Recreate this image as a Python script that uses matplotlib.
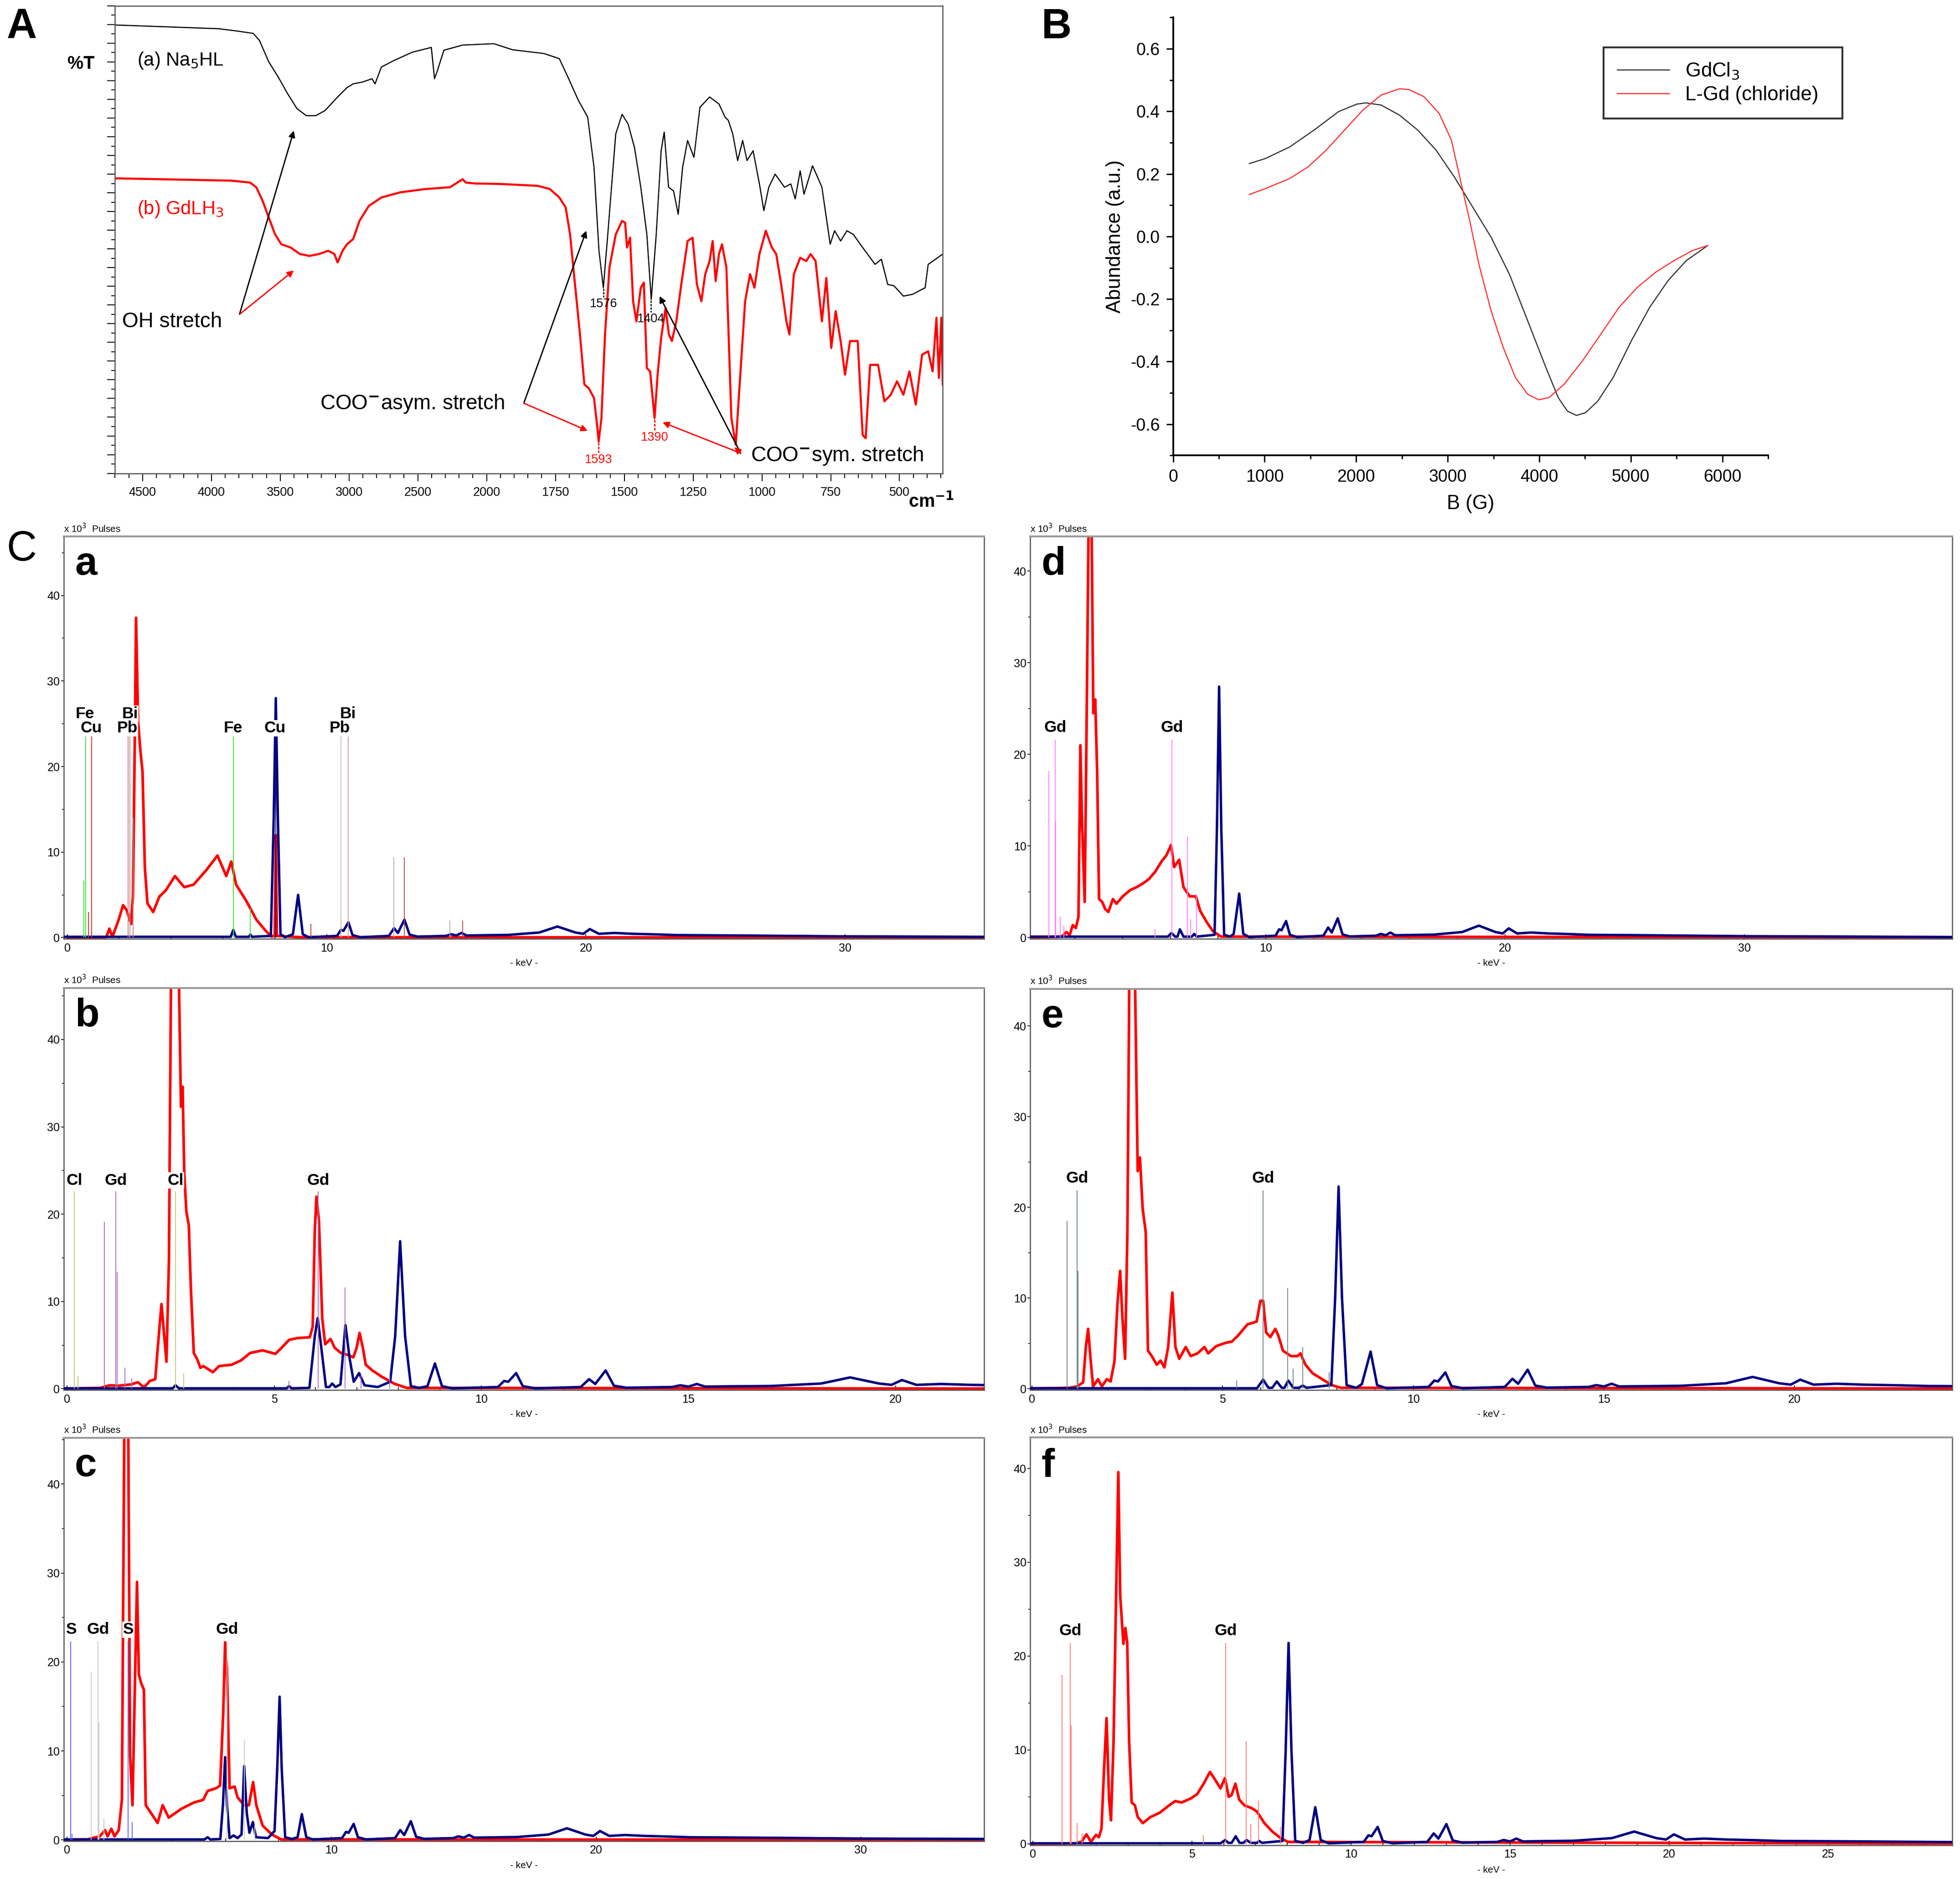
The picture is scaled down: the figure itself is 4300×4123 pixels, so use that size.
import numpy as np
import matplotlib
matplotlib.use('Agg')
from matplotlib import pyplot as plt
from matplotlib.ticker import FixedLocator, MultipleLocator, FormatStrFormatter

plt.rcParams['font.family'] = ['Liberation Sans', 'DejaVu Sans']
plt.rcParams['axes.unicode_minus'] = False
NARROW = ['Liberation Sans Narrow', 'Liberation Sans', 'DejaVu Sans']

# ---------------- A: IR spectra (wavenumber, %T) ----------------
ir_a_w = [4700, 3946, 3810, 3696, 3651, 3583, 3515, 3446, 3378, 3310, 3242, 3174, 3083, 3015, 2970,
          2902, 2833, 2811, 2765, 2674, 2538, 2402, 2379, 2357, 2311, 2175, 1974, 1906, 1792, 1736,
          1702, 1667, 1633, 1610, 1592, 1576, 1560, 1531, 1508, 1486, 1463, 1440, 1418, 1402, 1384,
          1366, 1355, 1339, 1321, 1304, 1288, 1270, 1247, 1225, 1190, 1156, 1134, 1122, 1106, 1088,
          1070, 1054, 1032, 1009, 993, 975, 952, 918, 895, 879, 861, 847, 816, 782, 752,
          736, 714, 691, 668, 634, 589, 566, 543, 520, 486, 452, 430, 407, 396, 362, 343]
ir_a_t = [95.9, 95.1, 94.6, 94.1, 92.6, 88.0, 84.8, 81.2, 78.0, 76.5, 76.5, 77.6, 80.5, 82.5, 83.3,
          83.7, 84.4, 83.3, 86.9, 88.3, 90.1, 91.1, 84.4, 86.2, 90.5, 91.6, 91.9, 90.6, 89.8, 88.7,
          84.4, 79.8, 76.2, 65.5, 47.6, 39.7, 51.1, 72.6, 76.8, 74.7, 69.7, 61.2, 51.1, 37.2, 51.1,
          69.0, 73.0, 61.2, 60.4, 55.4, 65.5, 71.2, 67.6, 78.3, 80.5, 79.0, 76.2, 75.5, 72.6, 66.9,
          71.2, 66.9, 69.0, 61.9, 56.2, 61.2, 64.0, 61.2, 61.9, 58.7, 64.7, 59.7, 65.8, 61.2, 49.0,
          51.9, 49.7, 51.9, 51.1, 48.3, 44.7, 45.8, 40.4, 40.1, 37.9, 38.3, 39.0, 39.7, 44.7, 46.1, 46.9]

ir_b_w = [4700, 3855, 3719, 3674, 3628, 3583, 3537, 3492, 3424, 3356, 3288, 3219, 3151, 3106, 3083,
          3047, 3015, 2970, 2924, 2856, 2765, 2629, 2447, 2266, 2175, 2152, 2084, 1951, 1815, 1770,
          1736, 1713, 1697, 1679, 1661, 1645, 1629, 1610, 1599, 1593, 1583, 1570, 1554, 1531, 1508,
          1497, 1490, 1479, 1468, 1456, 1440, 1429, 1418, 1406, 1390, 1379, 1366, 1350, 1338, 1327,
          1311, 1293, 1270, 1252, 1236, 1220, 1206, 1190, 1179, 1168, 1156, 1145, 1129, 1111, 1095,
          1077, 1061, 1043, 1027, 1009, 986, 964, 948, 930, 911, 900, 884, 861, 839, 823,
          805, 782, 766, 748, 732, 714, 698, 680, 652, 634, 623, 607, 578, 555, 532,
          509, 486, 464, 441, 418, 396, 380, 366, 357, 348, 343]
ir_b_t = [63.1, 62.6, 62.2, 61.2, 58.3, 54.7, 51.1, 49.0, 48.3, 46.9, 46.5, 46.9, 47.6, 46.9, 45.1,
          47.6, 49.0, 50.1, 54.0, 57.2, 59.0, 60.1, 60.8, 61.2, 62.9, 62.2, 62.0, 61.9, 61.5, 60.8,
          59.0, 56.9, 51.1, 40.4, 29.7, 19.0, 18.2, 16.1, 10.4, 6.8, 11.8, 29.7, 44.0, 51.1, 54.0,
          53.6, 48.3, 50.4, 36.8, 32.5, 39.7, 40.8, 22.5, 21.8, 11.8, 21.1, 29.0, 35.4, 29.7, 28.3,
          32.5, 40.4, 49.7, 50.4, 40.4, 36.8, 42.6, 45.4, 49.7, 41.1, 46.9, 49.0, 44.0, 11.8, 6.1,
          22.5, 36.8, 42.6, 39.7, 46.9, 51.9, 48.3, 46.9, 40.4, 32.5, 29.7, 42.6, 46.1, 45.4, 46.9,
          45.4, 32.5, 41.8, 26.8, 34.7, 28.3, 21.1, 28.3, 28.3, 8.2, 7.5, 23.2, 23.2, 15.4, 16.8,
          19.7, 16.8, 21.8, 14.7, 25.4, 26.1, 21.8, 33.3, 20.4, 33.3, 19.0]

ir_ticks = [4500, 4000, 3500, 3000, 2500, 2000, 1750, 1500, 1250, 1000, 750, 500]

# ---------------- B: EPR ----------------
epr_gdcl3_b = [833, 1007, 1273, 1540, 1807, 2007, 2107, 2273, 2473, 2673, 2873, 3073, 3273, 3473,
               3673, 3873, 4073, 4207, 4307, 4407, 4507, 4640, 4807, 5007, 5207, 5407, 5607, 5840]
epr_gdcl3_y = [0.233, 0.249, 0.286, 0.340, 0.399, 0.423, 0.427, 0.420, 0.388, 0.340, 0.276, 0.190,
               0.094, -0.002, -0.120, -0.269, -0.419, -0.515, -0.558, -0.572, -0.563, -0.526,
               -0.451, -0.333, -0.226, -0.141, -0.077, -0.029]
epr_lgd_b = [833, 1007, 1273, 1473, 1673, 1873, 2073, 2273, 2473, 2573, 2740, 2907, 3040, 3140,
             3240, 3340, 3473, 3607, 3740, 3873, 3993, 4107, 4273, 4473, 4673, 4873, 5073, 5273,
             5473, 5673, 5840]
epr_lgd_y = [0.134, 0.153, 0.185, 0.222, 0.276, 0.340, 0.404, 0.452, 0.472, 0.470, 0.447, 0.393,
             0.308, 0.179, 0.051, -0.088, -0.237, -0.355, -0.451, -0.504, -0.522, -0.515, -0.472,
             -0.397, -0.312, -0.226, -0.162, -0.114, -0.077, -0.045, -0.029]

# ---------------- C: EDX spectra (keV, x10^3 pulses) ----------------
blue_tail = [(9.3, 0.05), (10.4, 0.2), (10.55, 0.9), (10.65, 0.8), (10.84, 1.8), (11.0, 0.3), (11.3, 0.05),
             (12.4, 0.2), (12.6, 1.1), (12.75, 0.55), (13.0, 2.1), (13.2, 0.35), (13.5, 0.12),
             (14.6, 0.2), (14.8, 0.4), (15.0, 0.25), (15.2, 0.55), (15.4, 0.25), (16.0, 0.28),
             (17.0, 0.32), (18.2, 0.6), (18.9, 1.3), (19.6, 0.6), (19.9, 0.45), (20.15, 1.0),
             (20.5, 0.45), (21.1, 0.55), (21.8, 0.45), (22.7, 0.38), (23.5, 0.3), (26.0, 0.25),
             (30.0, 0.15), (35.0, 0.1), (39.0, 0.05)]

red_a = [(0.0, 0.02), (1.5, 0.05), (1.62, 1.05), (1.74, 0.1), (1.98, 2.1), (2.15, 3.8), (2.29, 3.2),
         (2.46, 1.6), (2.53, 4.8), (2.61, 25.2), (2.65, 37.4), (2.73, 25.2), (2.82, 21.8), (2.9, 19.4),
         (2.99, 8.2), (3.09, 4.0), (3.31, 3.0), (3.55, 4.8), (3.79, 5.5), (4.15, 7.2), (4.51, 5.9),
         (4.87, 6.2), (5.36, 7.9), (5.79, 9.6), (6.13, 7.2), (6.32, 8.9), (6.51, 6.2), (6.92, 4.2),
         (7.29, 2.1), (7.65, 0.8), (7.89, 0.1), (8.0, 0.3), (8.04, 12.0), (8.08, 0.2), (9.0, 0.05),
         (35.4, 0.02)]
blue_a = [(-0.2, 0.1), (6.3, 0.1), (6.4, 0.9), (6.5, 0.1), (7.0, 0.1), (7.06, 0.35), (7.12, 0.1),
          (7.85, 0.2), (7.96, 14.0), (8.04, 28.0), (8.12, 14.0), (8.22, 0.4), (8.4, 0.05), (8.7, 0.4),
          (8.9, 5.0), (9.08, 0.4)] + blue_tail
lines_a = [(0.63, 6.7, '#40e040'), (0.705, 23.5, '#40e040'), (0.81, 3.0, '#e03030'), (0.93, 23.5, '#e03030'),
           (2.34, 23.5, '#d08080'), (2.42, 23.5, '#b0a0a0'), (2.53, 14.0, '#d08080'),
           (6.40, 23.5, '#40e040'), (7.06, 3.4, '#40e040'), (8.04, 23.5, '#101080'),
           (9.4, 1.6, '#c04040'), (10.55, 23.5, '#c8c0c0'), (10.84, 23.5, '#d0a0a0'),
           (12.6, 9.4, '#c0b0b0'), (13.0, 9.4, '#b05050'), (14.76, 2.0, '#c0b0b0'), (15.25, 2.0, '#c05050')]
labels_a = [(0.68, 25.3, 'Fe'), (0.92, 23.6, 'Cu'), (2.42, 25.3, 'Bi'), (2.31, 23.6, 'Pb'),
            (6.4, 23.6, 'Fe'), (8.0, 23.6, 'Cu'), (10.5, 23.6, 'Pb'), (10.82, 25.3, 'Bi')]

red_b = [(0.0, 0.02), (0.8, 0.1), (1.03, 0.4), (1.25, 0.35), (1.55, 0.5), (1.71, 0.75), (1.86, 0.15),
         (2.0, 0.9), (2.13, 1.1), (2.19, 4.7), (2.28, 9.7), (2.34, 6.4), (2.4, 3.1), (2.46, 14.7),
         (2.51, 47.0), (2.61, 47.0), (2.7, 47.0), (2.75, 32.3), (2.79, 34.6), (2.83, 24.6), (2.88, 20.3),
         (2.94, 18.7), (2.99, 11.4), (3.06, 4.1), (3.14, 3.4), (3.22, 2.4), (3.29, 2.6), (3.52, 1.9),
         (3.67, 2.6), (3.97, 2.75), (4.2, 3.25), (4.42, 4.1), (4.72, 4.4), (5.03, 4.0), (5.18, 4.7),
         (5.36, 5.6), (5.55, 5.8), (5.86, 5.9), (5.93, 7.1), (5.98, 18.0), (6.02, 22.0), (6.08, 19.3),
         (6.16, 8.1), (6.23, 5.1), (6.36, 5.7), (6.46, 4.7), (6.61, 4.1), (6.76, 3.9), (6.91, 3.6),
         (6.99, 4.7), (7.06, 6.4), (7.14, 4.7), (7.21, 2.75), (7.37, 2.1), (7.59, 1.4), (7.89, 0.6),
         (8.2, 0.1), (22.2, 0.02)]
blue_b = [(-0.1, 0.05), (2.55, 0.05), (2.62, 0.4), (2.7, 0.05), (5.3, 0.05), (5.36, 0.3), (5.42, 0.05),
          (5.85, 0.1), (5.98, 6.0), (6.05, 8.1), (6.13, 5.0), (6.25, 0.2), (6.33, 0.2), (6.4, 0.6),
          (6.48, 0.2), (6.6, 0.5), (6.72, 7.3), (6.82, 3.5), (6.92, 0.8), (7.05, 1.8), (7.18, 0.4),
          (7.5, 0.2), (7.8, 0.8), (7.92, 6.0), (8.04, 16.9), (8.16, 6.0), (8.3, 0.3), (8.5, 0.1),
          (8.7, 0.3), (8.88, 2.9), (9.05, 0.3)] + blue_tail
lines_b = [(0.18, 22.6, '#c8c880'), (0.26, 1.5, '#c8c880'), (0.9, 19.1, '#b070c0'), (1.18, 22.6, '#b070c0'),
           (1.21, 13.4, '#b070c0'), (1.4, 2.4, '#b070c0'), (1.56, 1.2, '#b070c0'),
           (2.62, 22.6, '#c8c880'), (2.82, 1.8, '#c8c880'), (5.36, 0.9, '#b070c0'),
           (6.06, 22.6, '#b070c0'), (6.71, 11.6, '#b070c0'), (7.1, 1.6, '#b070c0'), (7.79, 1.8, '#b070c0')]
labels_b = [(0.18, 23.0, 'Cl'), (1.18, 23.0, 'Gd'), (2.62, 23.0, 'Cl'), (6.06, 23.0, 'Gd')]

red_c = [(0.0, 0.02), (0.78, 0.05), (1.02, 0.25), (1.25, 0.4), (1.44, 1.1), (1.54, 0.4), (1.68, 1.25),
         (1.8, 0.4), (1.96, 1.1), (2.08, 4.5), (2.17, 46.0), (2.32, 46.0), (2.39, 9.4), (2.48, 3.9),
         (2.55, 14.3), (2.65, 29.0), (2.72, 18.6), (2.81, 17.6), (2.91, 16.9), (2.98, 3.9), (3.14, 3.2),
         (3.43, 1.9), (3.62, 3.9), (3.85, 2.5), (4.33, 3.5), (4.8, 4.2), (5.15, 4.5), (5.32, 5.5),
         (5.63, 5.8), (5.79, 6.1), (5.91, 14.3), (5.98, 22.2), (6.05, 19.2), (6.15, 5.8), (6.34, 6.0),
         (6.45, 4.8), (6.69, 3.9), (6.88, 3.9), (7.04, 6.5), (7.16, 3.9), (7.4, 1.6), (7.75, 0.6),
         (8.1, 0.05), (34.8, 0.02)]
blue_c = [(-0.2, 0.05), (5.2, 0.05), (5.32, 0.3), (5.42, 0.05), (5.8, 0.1), (5.9, 4.0), (5.98, 9.3),
          (6.05, 4.0), (6.15, 0.2), (6.3, 0.5), (6.45, 0.2), (6.6, 0.6), (6.7, 8.3), (6.8, 3.0),
          (6.9, 0.8), (7.03, 2.0), (7.15, 0.3), (7.6, 0.2), (7.85, 1.0), (7.95, 8.0), (8.04, 16.1),
          (8.12, 8.0), (8.25, 0.3), (8.5, 0.1), (8.72, 0.3), (8.88, 2.9), (9.05, 0.3)] + blue_tail
lines_c = [(0.15, 22.3, '#6060ff'), (0.2, 0.7, '#6060ff'), (0.92, 18.9, '#cccccc'), (1.18, 22.3, '#cccccc'),
           (1.21, 13.2, '#cccccc'), (1.4, 2.4, '#cccccc'), (2.31, 22.3, '#6060ff'), (2.46, 2.0, '#6060ff'),
           (6.06, 22.3, '#cccccc'), (6.71, 11.3, '#cccccc'), (7.1, 1.6, '#cccccc')]
labels_c = [(0.15, 22.8, 'S'), (1.18, 22.8, 'Gd'), (2.31, 22.8, 'S'), (6.06, 22.8, 'Gd')]

red_d = [(0.14, 0.02), (1.45, 0.1), (1.66, 0.6), (1.79, 0.25), (1.92, 1.35), (2.05, 1.05), (2.16, 2.3),
         (2.24, 21.0), (2.31, 12.4), (2.42, 3.9), (2.5, 23.5), (2.58, 44.5), (2.71, 44.5), (2.78, 24.5),
         (2.86, 26.0), (2.94, 18.1), (3.02, 4.2), (3.15, 3.9), (3.28, 3.1), (3.41, 2.8), (3.6, 4.2),
         (3.75, 3.7), (4.01, 4.5), (4.33, 5.2), (4.59, 5.5), (4.85, 5.9), (5.11, 6.4), (5.37, 7.2),
         (5.63, 8.3), (5.84, 9.0), (6.03, 10.1), (6.16, 7.7), (6.37, 8.5), (6.55, 5.5), (6.81, 4.5),
         (7.07, 4.5), (7.25, 2.9), (7.52, 1.7), (7.78, 0.7), (8.12, 0.1), (38.7, 0.02)]
blue_d = [(0.14, 0.1), (5.9, 0.1), (6.05, 0.5), (6.2, 0.1), (6.3, 0.1), (6.4, 0.9), (6.55, 0.1),
          (6.9, 0.1), (7.0, 0.4), (7.1, 0.1), (7.85, 0.3), (7.95, 12.0), (8.04, 27.4), (8.13, 12.0),
          (8.25, 0.3), (8.5, 0.1), (8.65, 0.4), (8.88, 4.8), (9.05, 0.4)] + blue_tail
lines_d = [(0.92, 18.2, '#ff80ff'), (1.18, 21.6, '#ff80ff'), (1.21, 12.7, '#ff80ff'), (1.39, 2.3, '#ff80ff'),
           (1.55, 1.3, '#ff80ff'), (5.36, 0.9, '#ff80ff'), (6.06, 21.6, '#ff80ff'), (6.71, 11.0, '#ff80ff'),
           (6.85, 2.0, '#ff80ff'), (7.1, 4.7, '#ff80ff')]
labels_d = [(1.18, 22.1, 'Gd'), (6.06, 22.1, 'Gd')]

red_e = [(-0.05, 0.02), (0.98, 0.1), (1.18, 0.25), (1.34, 0.7), (1.41, 4.6), (1.47, 6.6), (1.54, 3.0),
         (1.6, 0.25), (1.73, 1.05), (1.83, 0.25), (1.96, 1.05), (2.06, 0.8), (2.16, 3.0), (2.24, 9.4),
         (2.31, 13.0), (2.37, 7.8), (2.44, 3.3), (2.5, 17.3), (2.55, 45.0), (2.7, 45.0), (2.77, 24.0),
         (2.83, 25.5), (2.9, 19.9), (2.98, 17.3), (3.04, 4.2), (3.14, 3.6), (3.27, 2.65), (3.37, 3.1),
         (3.47, 2.35), (3.57, 4.6), (3.68, 10.6), (3.76, 4.6), (3.86, 3.3), (4.03, 4.6), (4.16, 3.6),
         (4.34, 3.9), (4.52, 4.6), (4.62, 3.9), (4.83, 4.7), (5.07, 5.05), (5.24, 5.2), (5.4, 5.85),
         (5.65, 7.1), (5.89, 7.4), (5.99, 9.7), (6.06, 9.7), (6.14, 6.2), (6.25, 5.7), (6.38, 6.6),
         (6.46, 5.85), (6.58, 4.2), (6.79, 3.6), (6.96, 3.6), (7.04, 3.9), (7.17, 2.65), (7.36, 1.7),
         (7.61, 1.05), (7.86, 0.4), (8.1, 0.1), (24.2, 0.02)]
blue_e = [(-0.05, 0.05), (5.9, 0.05), (6.06, 1.0), (6.2, 0.1), (6.3, 0.1), (6.42, 0.8), (6.55, 0.1),
          (6.62, 0.1), (6.72, 0.9), (6.85, 0.1), (7.0, 0.1), (7.1, 0.35), (7.2, 0.1), (7.85, 0.4),
          (7.95, 10.0), (8.04, 22.3), (8.13, 10.0), (8.25, 0.4), (8.5, 0.1), (8.65, 0.5), (8.88, 4.1),
          (9.05, 0.4)] + blue_tail
lines_e = [(0.92, 18.5, '#708890'), (1.18, 21.9, '#708890'), (1.21, 13.0, '#708890'), (5.36, 0.9, '#708890'),
           (6.06, 21.9, '#708890'), (6.71, 11.1, '#708890'), (6.85, 2.2, '#708890'), (7.1, 4.6, '#708890'),
           (7.79, 1.8, '#708890')]
labels_e = [(1.18, 22.4, 'Gd'), (6.06, 22.4, 'Gd')]

red_f = [(-0.08, 0.02), (1.34, 0.05), (1.53, 0.2), (1.69, 1.0), (1.83, 0.2), (1.99, 0.95), (2.08, 0.7),
         (2.16, 1.6), (2.24, 7.8), (2.32, 13.4), (2.4, 4.7), (2.46, 2.5), (2.54, 10.9), (2.62, 26.4),
         (2.69, 39.6), (2.75, 26.4), (2.81, 23.3), (2.85, 21.3), (2.91, 23.0), (2.97, 21.4), (3.03, 10.9),
         (3.11, 4.4), (3.21, 4.1), (3.3, 2.85), (3.46, 2.2), (3.7, 2.85), (3.99, 3.3), (4.29, 4.1),
         (4.48, 4.55), (4.68, 4.4), (4.98, 4.85), (5.17, 5.3), (5.37, 6.4), (5.57, 7.65), (5.7, 7.0),
         (5.9, 5.9), (6.04, 7.0), (6.16, 5.0), (6.25, 5.2), (6.37, 6.4), (6.49, 4.7), (6.65, 4.1),
         (6.88, 3.8), (7.04, 3.45), (7.28, 2.2), (7.53, 1.3), (7.79, 0.6), (8.02, 0.2), (29.0, 0.02)]
blue_f = [(-0.08, 0.05), (5.9, 0.05), (6.05, 0.4), (6.15, 0.1), (6.25, 0.1), (6.38, 0.8), (6.5, 0.1),
          (6.62, 0.1), (6.72, 0.4), (6.85, 0.1), (7.05, 0.1), (7.12, 0.3), (7.2, 0.1), (7.85, 0.3),
          (7.95, 10.0), (8.04, 21.4), (8.13, 10.0), (8.25, 0.3), (8.5, 0.1), (8.7, 0.4), (8.88, 3.9),
          (9.05, 0.4)] + blue_tail
lines_f = [(0.92, 18.0, '#ff8080'), (1.18, 21.4, '#ff8080'), (1.21, 12.6, '#ff8080'), (1.39, 2.2, '#ff8080'),
           (1.55, 1.1, '#ff8080'), (5.36, 0.9, '#ff8080'), (6.06, 21.4, '#ff8080'), (6.71, 10.9, '#ff8080'),
           (6.85, 2.1, '#ff8080'), (7.1, 4.6, '#ff8080'), (7.79, 1.8, '#ff8080')]
labels_f = [(1.18, 21.9, 'Gd'), (6.06, 21.9, 'Gd')]


def ir_fwd(w):
    w = np.asarray(w, float)
    return np.where(w >= 2000, w, 2 * w - 2000)


def ir_inv(v):
    v = np.asarray(v, float)
    return np.where(v >= 2000, v, (v + 2000) / 2)


fig = plt.figure(figsize=(4300 / 300, 4123 / 300), dpi=300)

# ---------------- panel A ----------------
axA = fig.add_axes([0.0587, 0.7481, 0.4223, 0.2488])
axA.set_xscale('function', functions=(ir_fwd, ir_inv))
axA.plot(ir_a_w, ir_a_t, color='black', lw=0.6)
axA.plot(ir_b_w, ir_b_t, color='#ff0000', lw=1.1)
axA.set_xlim(4700, 343)
axA.set_ylim(0, 100)
axA.xaxis.set_major_locator(FixedLocator(ir_ticks))
axA.xaxis.set_minor_locator(FixedLocator(list(range(4700, 2000, -100)) + list(range(2000, 340, -50))))
axA.xaxis.set_major_formatter(FormatStrFormatter('%d'))
axA.yaxis.set_major_locator(MultipleLocator(4))
axA.yaxis.set_minor_locator(MultipleLocator(2))
axA.set_yticklabels([])
axA.tick_params(axis='x', which='major', length=4, width=0.5, labelsize=6.5, pad=3)
axA.tick_params(axis='x', which='minor', length=2.5, width=0.5)
axA.tick_params(axis='y', which='major', length=4, width=0.5)
axA.tick_params(axis='y', which='minor', length=2, width=0.5)
for lab in axA.get_xticklabels():
    lab.set_family(NARROW)
for sp in axA.spines.values():
    sp.set_color('#555555')
    sp.set_linewidth(0.6)

axA.text(-0.041, 0.876, '%T', transform=axA.transAxes, ha='center', va='center',
         fontsize=9.5, fontweight='bold', family=NARROW)
axA.text(0.986, -0.061, 'cm$^{\\mathbf{-1}}$', transform=axA.transAxes, ha='center', va='center',
         fontsize=9.5, fontweight='bold', family=NARROW)
axA.text(4540, 88.3, '(a) Na$_5$HL', fontsize=10, va='center', ha='left', family=NARROW)
axA.text(4540, 56.5, '(b) GdLH$_3$', fontsize=10, va='center', ha='left', color='#ff0000', family=NARROW)
axA.text(4650, 32.4, 'OH stretch', fontsize=11, va='center', ha='left', family=NARROW)
axA.text(1935, 14.9, 'COO$^{\\mathbf{-}}$asym. stretch', fontsize=11, va='center', ha='right', family=NARROW)
axA.text(1040, 3.8, 'COO$^{\\mathbf{-}}$sym. stretch', fontsize=11, va='center', ha='left', family=NARROW)

axA.text(1576, 36.2, '1576', fontsize=6.5, ha='center', va='center', family=NARROW)
axA.text(1404, 33.0, '1404', fontsize=6.5, ha='center', va='center', family=NARROW)
axA.text(1593, 2.9, '1593', fontsize=6.5, ha='center', va='center', color='#ff0000', family=NARROW)
axA.text(1390, 7.7, '1390', fontsize=6.5, ha='center', va='center', color='#ff0000', family=NARROW)
axA.plot([1576, 1576], [39.5, 37.7], color='black', lw=0.6, ls=(0, (2, 1)))
axA.plot([1404, 1404], [37.0, 34.5], color='black', lw=0.6, ls=(0, (2, 1)))
axA.plot([1593, 1593], [6.6, 4.4], color='#ff0000', lw=0.7, ls=(0, (2, 1)))
axA.plot([1390, 1390], [11.5, 9.2], color='#ff0000', lw=0.7, ls=(0, (2, 1)))

arrows = [((3796, 34.0), (3401, 73.3), 'black'),
          ((3796, 34.0), (3401, 43.4), '#ff0000'),
          ((1865, 15.0), (1638, 51.9), 'black'),
          ((1865, 15.0), (1633, 9.1), '#ff0000'),
          ((1077, 4.3), (1372, 37.9), 'black'),
          ((1077, 4.3), (1361, 10.9), '#ff0000'),
          ((1077, 4.3), (1100, 5.6), '#ff0000')]
for start, tip, col in arrows:
    axA.annotate('', xy=tip, xytext=start,
                 arrowprops=dict(arrowstyle='-|>', color=col, lw=0.7, mutation_scale=7,
                                 shrinkA=0, shrinkB=0))

# ---------------- panel B ----------------
axB = fig.add_axes([0.5985, 0.7576, 0.3036, 0.2331])
axB.plot(epr_gdcl3_b, epr_gdcl3_y, color='#333333', lw=0.6, label='GdCl$_3$')
axB.plot(epr_lgd_b, epr_lgd_y, color='#ff3030', lw=0.6, label='L-Gd (chloride)')
axB.set_xlim(0, 6500)
axB.set_ylim(-0.7, 0.7)
axB.spines['top'].set_visible(False)
axB.spines['right'].set_visible(False)
axB.xaxis.set_major_locator(MultipleLocator(1000))
axB.xaxis.set_minor_locator(MultipleLocator(500))
axB.yaxis.set_major_locator(FixedLocator([-0.6, -0.4, -0.2, 0.0, 0.2, 0.4, 0.6]))
axB.yaxis.set_minor_locator(MultipleLocator(0.1))
axB.yaxis.set_major_formatter(FormatStrFormatter('%.1f'))
axB.tick_params(which='major', length=3.5, width=0.7, labelsize=9, direction='out')
axB.tick_params(which='minor', length=2, width=0.7, direction='out')
for lab in axB.get_xticklabels() + axB.get_yticklabels():
    lab.set_family(NARROW)
for sp in axB.spines.values():
    sp.set_linewidth(0.9)
axB.set_xlabel('B (G)', fontsize=10.5, labelpad=5)
axB.set_ylabel('Abundance (a.u.)', fontsize=10.5, labelpad=3)
leg = axB.legend(loc='upper left', bbox_to_anchor=(0.813, 0.943, 0.132, 0.037),
                 bbox_transform=fig.transFigure, mode='expand', fancybox=False,
                 edgecolor='black', handlelength=2.6, borderpad=0.7,
                 labelspacing=0.25, prop={'family': NARROW, 'size': 10.5})
leg.get_frame().set_linewidth(1.0)

# ---------------- panel C ----------------
edx = [
    ('a', [0.0325, 0.5003, 0.4695, 0.2142], (-0.14, 35.35), 46.9, 2, red_a, blue_a, lines_a, labels_a),
    ('b', [0.0325, 0.2602, 0.4695, 0.2140], (-0.08, 22.13), 45.9, 1, red_b, blue_b, lines_b, labels_b),
    ('c', [0.0325, 0.0201, 0.4695, 0.2147], (-0.12, 34.66), 45.2, 2, red_c, blue_c, lines_c, labels_c),
    ('d', [0.5256, 0.5003, 0.4705, 0.2142], (0.14, 38.7), 43.8, 2, red_d, blue_d, lines_d, labels_d),
    ('e', [0.5256, 0.2602, 0.4705, 0.2135], (-0.05, 24.14), 44.1, 1, red_e, blue_e, lines_e, labels_e),
    ('f', [0.5256, 0.0180, 0.4705, 0.2170], (-0.08, 28.9), 43.3, 1, red_f, blue_f, lines_f, labels_f),
]

for letter, rect, xlim, ytop, minor, red, blue, lines, labels in edx:
    ax = fig.add_axes(rect)
    rx, ry = np.array(red).T
    bx, by = np.array(blue).T
    ax.plot(rx, ry, color='#ff0000', lw=1.4, zorder=2)
    ax.plot(bx, by, color='#000080', lw=1.3, zorder=3)
    for x, h, col in lines:
        ax.vlines(x, 0, h, color=col, lw=0.45, zorder=4)
    for x, y, t in labels:
        # lower labels are drawn on top so the upper row does not hide them
        ax.text(x, y, t, ha='center', va='bottom', fontsize=8.5, fontweight='bold', family=NARROW,
                zorder=6 - y / 100, bbox=dict(facecolor='white', edgecolor='none', pad=0.3))
    ax.set_xlim(*xlim)
    ax.set_ylim(-0.15, ytop)
    major = 5 if xlim[1] < 30 else 10
    ax.xaxis.set_major_locator(MultipleLocator(major))
    ax.xaxis.set_minor_locator(MultipleLocator(minor))
    ax.yaxis.set_major_locator(MultipleLocator(10))
    ax.yaxis.set_minor_locator(MultipleLocator(5))
    ax.tick_params(axis='x', which='major', direction='in', length=2.5, width=0.4, labelsize=6, pad=2)
    ax.tick_params(axis='x', which='minor', direction='in', length=1.5, width=0.4)
    ax.tick_params(axis='y', which='major', direction='out', length=1.5, width=0.4, labelsize=6, pad=0.5)
    ax.tick_params(axis='y', which='minor', direction='out', length=1, width=0.4)
    for lab in ax.get_xticklabels() + ax.get_yticklabels():
        lab.set_family(NARROW)
    for sp in ax.spines.values():
        sp.set_color('#555555')
        sp.set_linewidth(0.6)
    ax.spines['top'].set_color('#999999')
    ax.spines['top'].set_linewidth(1.0)
    ax.text(0.0, 1.006, 'x 10$^3$  Pulses', transform=ax.transAxes, ha='left', va='bottom',
            fontsize=5, family=NARROW)
    ax.text(0.5, -0.05, '- keV -', transform=ax.transAxes, ha='center', va='top',
            fontsize=5, family=NARROW)
    ax.text(0.012, 0.93, letter, transform=ax.transAxes, ha='left', va='center',
            fontsize=21, fontweight='bold')

# panel letters
fig.text(0.011, 0.9855, 'A', fontsize=22, fontweight='bold', ha='center', va='center')
fig.text(0.539, 0.9855, 'B', fontsize=22, fontweight='bold', ha='center', va='center')
fig.text(0.011, 0.7075, 'C', fontsize=22, ha='center', va='center')

fig.savefig('out.png', dpi=300)
